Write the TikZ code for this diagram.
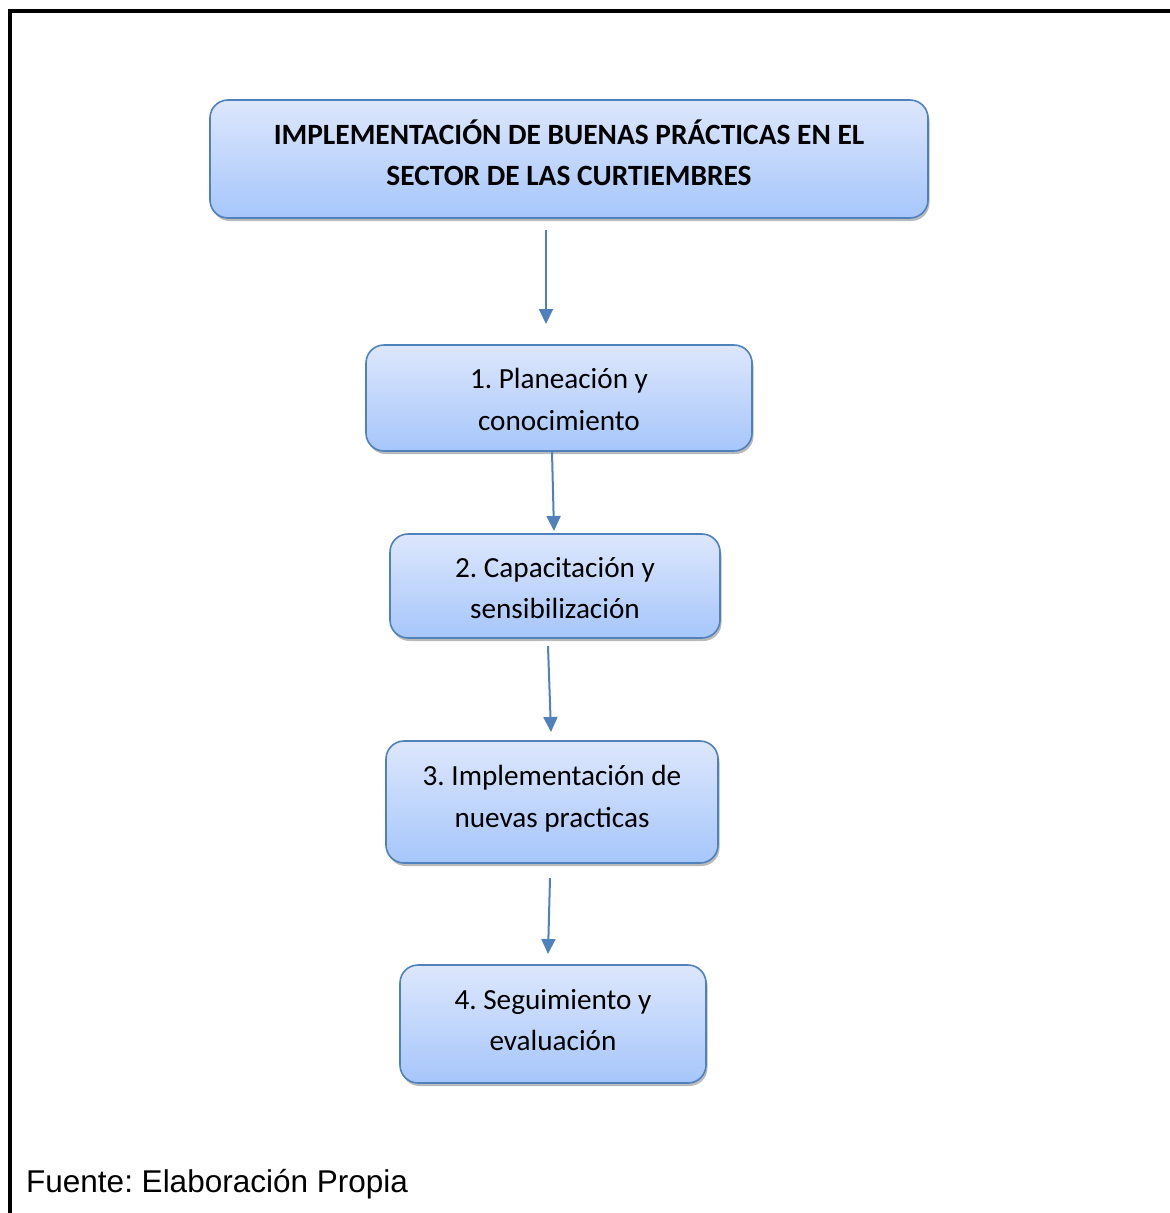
\documentclass[tikz,border=0pt]{standalone}
\usepackage{fontspec}
\setmainfont{Carlito}
\newfontfamily\arialfont{Liberation Sans}
\frenchspacing
\usetikzlibrary{shadows,arrows.meta}
\definecolor{boxedge}{HTML}{4F81BD}
\definecolor{boxtop}{HTML}{DDE7FC}
\definecolor{boxbot}{HTML}{A6C6FB}
\newcommand{\liftxt}[3]{\raisebox{#1}[\height][\depth]{\parbox{#2}{\centering #3}}}
\tikzset{
  stepbox/.style={draw=boxedge, line width=1.6pt, rounded corners=18pt,
    top color=boxtop, bottom color=boxbot, inner sep=0pt, align=center,
    font=\fontsize{29.2}{41.5}\selectfont,
    drop shadow={shadow xshift=1.5pt, shadow yshift=-3pt, fill=black!45, opacity=0.6}},
  flowarrow/.style={draw=boxedge, line width=2pt, -{Triangle[length=15pt,width=14pt]}},
}
\begin{document}
\begin{tikzpicture}[x=1pt,y=-1pt]
\useasboundingbox (0,0) rectangle (1170,1213);
\draw[line width=4pt] (1175,11) -- (10,11) -- (10,1218);
\node[stepbox, minimum width=718pt, minimum height=118pt,
  font=\bfseries\fontsize{29.4}{41.5}\selectfont] (top) at (569,159)
  {\liftxt{6pt}{700pt}{IMPLEMENTACIÓN DE BUENAS PRÁCTICAS EN EL\\SECTOR DE LAS CURTIEMBRES}};
\node[stepbox, minimum width=386pt, minimum height=106pt] (s1) at (559,398)
  {\liftxt{-1.5pt}{370pt}{1. Planeación y\\conocimiento}};
\node[stepbox, minimum width=330pt, minimum height=104pt] (s2) at (555,586)
  {\liftxt{-2pt}{320pt}{2. Capacitación y\\sensibilización}};
\node[stepbox, minimum width=332pt, minimum height=122pt] (s3) at (552,802)
  {\liftxt{3.5pt}{320pt}{3. Implementación de\\nuevas practicas}};
\node[stepbox, minimum width=306pt, minimum height=118pt] (s4) at (553,1024)
  {\liftxt{4pt}{296pt}{4. Seguimiento y\\evaluación}};
\coordinate (a0s) at (546,230);
\coordinate (a0e) at (546,324);
\coordinate (a1s) at (552,452);
\coordinate (a1e) at (554,531);
\coordinate (a2s) at (548,646);
\coordinate (a2e) at (551,732);
\coordinate (a3s) at (550,878);
\coordinate (a3e) at (548,954);
\draw[flowarrow] (a0s) -- (a0e);
\draw[flowarrow] (a1s) -- (a1e);
\draw[flowarrow] (a2s) -- (a2e);
\draw[flowarrow] (a3s) -- (a3e);
\node[anchor=base west, inner sep=0pt, font=\arialfont\fontsize{31.5}{36}\selectfont] (src) at (26,1192) {Fuente: Elaboración Propia};
\end{tikzpicture}
\end{document}
